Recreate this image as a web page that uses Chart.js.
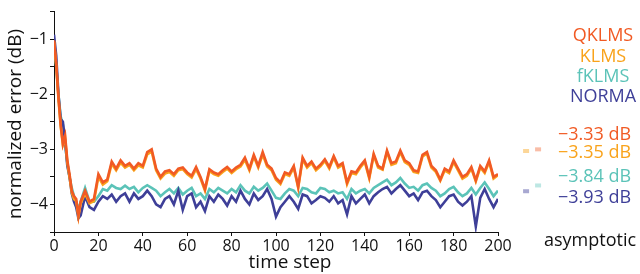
<!DOCTYPE html>
<html>
<head>
<meta charset="utf-8">
<script src="https://cdn.jsdelivr.net/npm/chart.js@4/dist/chart.umd.min.js"></script>
<style>
  html, body { margin: 0; padding: 0; background: #fff; }
  #wrap { width: 640px; height: 274px; position: relative; }
</style>
</head>
<body>
<div id="wrap"><canvas id="c" width="640" height="274"></canvas></div>
<script>
// time steps (dense at the start, every 2 afterwards)
var steps = [0,1,2,3,4,5,6,7,8,9,10,11,12,
  14,16,18,20,22,24,26,28,30,32,34,36,38,40,42,44,46,48,50,52,54,56,58,60,
  62,64,66,68,70,72,74,76,78,80,82,84,86,88,90,92,94,96,98,100,
  102,104,106,108,110,112,114,116,118,120,122,124,126,128,130,132,134,136,138,140,
  142,144,146,148,150,152,154,156,158,160,162,164,166,168,170,172,174,176,178,180,
  182,184,186,188,190,192,194,196,198,200];

var qklms = [-1.02,-1.45,-2.05,-2.55,-2.9,-2.75,-3.2,-3.45,-3.75,-3.85,-3.9,-4.2,-3.95,
  -3.75,-3.95,-3.9,-3.45,-3.6,-3.55,-3.22,-3.35,-3.2,-3.3,-3.25,-3.35,-3.25,-3.3,-3.05,-3.0,-3.35,-3.5,-3.4,-3.38,-3.45,-3.35,-3.33,-3.42,
  -3.48,-3.32,-3.5,-3.72,-3.36,-3.42,-3.45,-3.38,-3.32,-3.4,-3.33,-3.28,-3.15,-3.35,-3.1,-3.3,-3.05,-3.28,-3.35,-3.52,
  -3.6,-3.42,-3.45,-3.3,-3.68,-3.15,-3.3,-3.22,-3.35,-3.28,-3.18,-3.32,-3.12,-3.3,-3.25,-3.6,-3.4,-3.42,-3.3,-3.2,
  -3.5,-3.08,-3.3,-3.35,-3.02,-3.25,-3.22,-3.02,-3.2,-3.25,-3.38,-3.4,-3.1,-3.05,-3.3,-3.38,-3.55,-3.35,-3.4,-3.2,
  -3.35,-3.5,-3.45,-3.32,-3.56,-3.3,-3.4,-3.2,-3.5,-3.45];

var klms = [-1.04,-1.48,-2.08,-2.58,-2.92,-2.8,-3.24,-3.5,-3.78,-3.9,-3.94,-4.22,-3.98,
  -3.8,-3.98,-3.94,-3.5,-3.64,-3.58,-3.26,-3.38,-3.24,-3.33,-3.28,-3.38,-3.29,-3.33,-3.09,-3.04,-3.38,-3.53,-3.44,-3.41,-3.48,-3.38,-3.36,-3.45,
  -3.51,-3.36,-3.53,-3.75,-3.39,-3.45,-3.48,-3.41,-3.35,-3.43,-3.36,-3.31,-3.19,-3.38,-3.13,-3.33,-3.09,-3.31,-3.38,-3.55,
  -3.63,-3.45,-3.48,-3.33,-3.7,-3.18,-3.33,-3.25,-3.38,-3.31,-3.21,-3.35,-3.15,-3.33,-3.28,-3.63,-3.43,-3.45,-3.33,-3.23,
  -3.53,-3.11,-3.33,-3.37,-3.05,-3.28,-3.25,-3.05,-3.23,-3.28,-3.41,-3.43,-3.13,-3.08,-3.33,-3.41,-3.57,-3.38,-3.43,-3.23,
  -3.38,-3.53,-3.48,-3.35,-3.58,-3.33,-3.43,-3.23,-3.53,-3.47];

var fklms = [-1.05,-1.5,-2.0,-2.4,-2.55,-2.9,-3.25,-3.5,-3.7,-3.85,-3.95,-4.1,-3.95,
  -3.7,-3.95,-3.95,-3.85,-3.72,-3.75,-3.65,-3.7,-3.72,-3.66,-3.72,-3.68,-3.78,-3.7,-3.65,-3.7,-3.75,-3.85,-3.78,-3.72,-3.8,-3.7,-3.82,-3.75,
  -3.7,-3.85,-3.8,-3.9,-3.72,-3.78,-3.7,-3.75,-3.8,-3.72,-3.78,-3.65,-3.75,-3.8,-3.68,-3.75,-3.7,-3.62,-3.75,-3.88,
  -3.9,-3.8,-3.72,-3.75,-3.85,-3.7,-3.72,-3.78,-3.8,-3.7,-3.72,-3.78,-3.75,-3.8,-3.78,-3.9,-3.72,-3.8,-3.75,-3.72,
  -3.8,-3.7,-3.65,-3.6,-3.55,-3.65,-3.6,-3.52,-3.62,-3.7,-3.68,-3.75,-3.65,-3.62,-3.7,-3.75,-3.85,-3.8,-3.72,-3.68,
  -3.78,-3.85,-3.8,-3.7,-3.82,-3.7,-3.6,-3.72,-3.85,-3.75];

var norma = [-0.92,-1.3,-2.0,-2.45,-2.5,-2.85,-3.3,-3.5,-3.8,-3.95,-4.05,-4.25,-4.2,
  -3.85,-4.05,-4.1,-3.95,-3.85,-3.9,-3.82,-3.95,-3.85,-3.8,-3.95,-3.8,-3.9,-3.85,-3.75,-3.85,-4.0,-4.05,-3.9,-3.85,-4.0,-3.75,-4.1,-3.85,
  -3.8,-4.05,-3.95,-4.12,-3.85,-3.95,-3.82,-3.9,-4.02,-3.85,-3.95,-3.75,-3.9,-4.0,-3.8,-3.92,-3.85,-3.72,-3.9,-4.22,
  -4.05,-3.95,-3.85,-3.95,-4.08,-3.82,-3.85,-3.98,-3.92,-3.85,-3.88,-3.95,-3.85,-3.98,-3.92,-4.18,-3.85,-3.98,-3.9,-3.82,
  -3.98,-3.85,-3.78,-3.72,-3.68,-3.8,-3.72,-3.65,-3.75,-3.85,-3.8,-3.92,-3.78,-3.75,-3.85,-3.92,-4.05,-3.95,-3.85,-3.82,
  -3.95,-4.02,-3.95,-3.85,-4.4,-3.88,-3.72,-3.9,-4.05,-3.9];

var names = ['QKLMS', 'KLMS', 'fKLMS', 'NORMA'];
var colors = ['#f15a24', '#f9a31b', '#5bc3b8', '#3e3f98'];
var lightColors = ['rgba(241,90,36,0.4)', 'rgba(249,163,27,0.45)', 'rgba(91,195,184,0.4)', 'rgba(62,63,152,0.45)'];

var asymLevel = [-3.0, -3.03, -3.655, -3.76];
var asymX = [[216.7, 219.4, 222.1], [211.3, 214, 216.7], [216.7, 219.4, 222.1], [211.3, 214, 216.7]];
var asymText = ['\u22123.33 dB', '\u22123.35 dB', '\u22123.84 dB', '\u22123.93 dB'];

var yTicks = [-4.5, -4, -3.5, -3, -2.5, -2, -1.5, -1, -0.5];
var FONT = '"Open Sans", sans-serif';

function pts(ys) {
  return steps.map(function(t, i) { return { x: t, y: ys[i] }; });
}

// dataset 0 is drawn on top
var series = [qklms, klms, norma, fklms];
var seriesIdx = [0, 1, 3, 2];
var datasets = series.map(function(ys, k) {
  return {
    label: names[seriesIdx[k]],
    data: pts(ys),
    borderColor: colors[seriesIdx[k]],
    borderWidth: 2.6,
    pointRadius: 0,
    tension: 0
  };
});

asymLevel.forEach(function(v, k) {
  datasets.push({
    label: 'asym ' + names[k],
    data: asymX[k].map(function(x) { return { x: x, y: v }; }),
    borderColor: lightColors[k],
    borderWidth: 4,
    borderCapStyle: 'butt',
    pointRadius: [0, 1.3, 0],
    pointBackgroundColor: colors[k],
    pointBorderWidth: 0,
    clip: false
  });
});

// texts outside the axes
var textPlugin = {
  id: 'texts',
  afterDraw: function(chart) {
    var ctx = chart.ctx;
    ctx.save();
    ctx.textBaseline = 'middle';
    ctx.font = '18px ' + FONT;
    ctx.textAlign = 'center';
    var ly = [36, 56.5, 77, 97];
    names.forEach(function(n, k) {
      ctx.fillStyle = colors[k];
      ctx.fillText(n, 603, ly[k]);
    });
    ctx.textAlign = 'left';
    var ay = [135, 153, 177, 198];
    asymText.forEach(function(s, k) {
      ctx.fillStyle = colors[k];
      ctx.fillText(s, 558, ay[k]);
    });
    ctx.fillStyle = '#111';
    ctx.fillText('asymptotic', 544, 241);
    ctx.font = '19px ' + FONT;
    ctx.textAlign = 'center';
    ctx.fillText('time step', 290, 263);
    ctx.translate(16, 124);
    ctx.rotate(-Math.PI / 2);
    ctx.fillText('normalized error (dB)', 0, 0);
    ctx.restore();
  }
};

new Chart(document.getElementById('c'), {
  type: 'line',
  data: { datasets: datasets },
  plugins: [textPlugin],
  options: {
    responsive: false,
    animation: false,
    layout: { padding: { left: 0, right: 142, top: 0, bottom: 0 } },
    plugins: { legend: { display: false }, tooltip: { enabled: false } },
    scales: {
      x: {
        type: 'linear', min: 0, max: 200,
        afterFit: function(s) { s.height = 42; },
        border: { display: true, color: '#111', width: 1 },
        grid: { drawOnChartArea: false, drawTicks: true, tickLength: 4, color: '#111' },
        ticks: { stepSize: 20, padding: 1, color: '#111', font: { family: FONT, size: 16 }, maxRotation: 0 }
      },
      y: {
        type: 'linear', min: -4.5, max: -0.5,
        afterFit: function(s) { s.width = 54; },
        afterBuildTicks: function(s) { s.ticks = yTicks.map(function(v) { return { value: v }; }); },
        border: { display: true, color: '#111', width: 1 },
        grid: { drawOnChartArea: false, drawTicks: true, tickLength: 4, color: '#111' },
        ticks: {
          padding: 2, color: '#111', font: { family: FONT, size: 16 },
          callback: function(v) {
            if (v % 1 !== 0) return '';
            return '\u2212' + Math.abs(v);
          }
        }
      }
    }
  }
});
</script>
</body>
</html>
